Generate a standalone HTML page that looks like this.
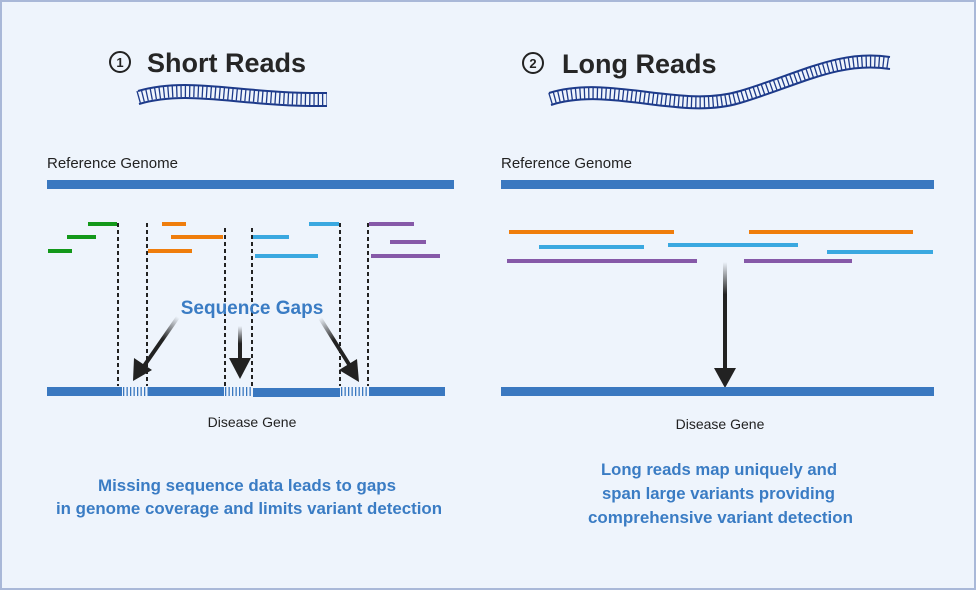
<!DOCTYPE html>
<html><head><meta charset="utf-8"><style>
html,body{margin:0;padding:0;background:#fff;}
svg{display:block;font-family:"Liberation Sans",sans-serif;}
</style></head><body>
<svg width="977" height="591" viewBox="0 0 977 591" xmlns="http://www.w3.org/2000/svg">
<defs>
<linearGradient id="ga" gradientUnits="userSpaceOnUse" x1="178" y1="317" x2="140" y2="372"><stop offset="0" stop-color="#222" stop-opacity="0"/><stop offset="0.4" stop-color="#222"/></linearGradient>
<linearGradient id="gb" gradientUnits="userSpaceOnUse" x1="240" y1="326" x2="240" y2="370"><stop offset="0" stop-color="#222" stop-opacity="0"/><stop offset="0.4" stop-color="#222"/></linearGradient>
<linearGradient id="gc" gradientUnits="userSpaceOnUse" x1="320" y1="318" x2="354" y2="374"><stop offset="0" stop-color="#222" stop-opacity="0"/><stop offset="0.4" stop-color="#222"/></linearGradient>
<linearGradient id="gd" gradientUnits="userSpaceOnUse" x1="725" y1="262" x2="725" y2="370"><stop offset="0" stop-color="#222" stop-opacity="0"/><stop offset="0.3" stop-color="#222"/></linearGradient>
</defs>
<rect x="1" y="1" width="974" height="588" fill="#eef4fc" stroke="#a9b8d8" stroke-width="2"/>

<!-- titles -->
<circle cx="120" cy="62" r="10" fill="none" stroke="#222" stroke-width="2"/>
<text x="120" y="67" font-size="13" font-weight="bold" text-anchor="middle" fill="#222">1</text>
<text x="147" y="72" font-size="27" font-weight="bold" fill="#262626">Short Reads</text>
<circle cx="533" cy="63" r="10" fill="none" stroke="#222" stroke-width="2"/>
<text x="533" y="68" font-size="13" font-weight="bold" text-anchor="middle" fill="#222">2</text>
<text x="562" y="73" font-size="27" font-weight="bold" fill="#262626">Long Reads</text>

<!-- DNA strands -->
<g fill="none" stroke="#1d3a8a">
<path d="M138 97 C190 82,240 100,327 99" stroke-width="12" stroke-dasharray="1.3 3"/>
<path d="M138 91 C190 76,240 94,327 93" stroke-width="2"/>
<path d="M139 104 C190 89,240 107,327 106" stroke-width="2"/>
<path d="M550 99 C610 80,680 115,740 97 S840 55,890 63" stroke-width="12" stroke-dasharray="1.3 3"/>
<path d="M549 93 C610 74,680 109,740 91 S840 49,890 57" stroke-width="2"/>
<path d="M551 105 C610 86,680 121,740 103 S840 61,890 69" stroke-width="2"/>
</g>

<!-- labels -->
<text x="47" y="168" font-size="15" fill="#222">Reference Genome</text>
<text x="501" y="168" font-size="15" fill="#222">Reference Genome</text>
<rect x="47" y="180" width="407" height="9" fill="#3a78c0"/>
<rect x="501" y="180" width="433" height="9" fill="#3a78c0"/>

<!-- short reads -->
<g stroke-width="4">
<line x1="48" y1="251" x2="72" y2="251" stroke="#13981a"/>
<line x1="67" y1="237" x2="96" y2="237" stroke="#13981a"/>
<line x1="88" y1="224" x2="117" y2="224" stroke="#13981a"/>
<line x1="162" y1="224" x2="186" y2="224" stroke="#ef7d0c"/>
<line x1="171" y1="237" x2="223" y2="237" stroke="#ef7d0c"/>
<line x1="148" y1="251" x2="192" y2="251" stroke="#ef7d0c"/>
<line x1="253" y1="237" x2="289" y2="237" stroke="#3aa8e0"/>
<line x1="309" y1="224" x2="339" y2="224" stroke="#3aa8e0"/>
<line x1="255" y1="256" x2="318" y2="256" stroke="#3aa8e0"/>
<line x1="369" y1="224" x2="414" y2="224" stroke="#8659a8"/>
<line x1="390" y1="242" x2="426" y2="242" stroke="#8659a8"/>
<line x1="371" y1="256" x2="440" y2="256" stroke="#8659a8"/>
</g>
<g stroke="#222" stroke-width="2" stroke-dasharray="4 3">
<line x1="118" y1="223" x2="118" y2="386"/>
<line x1="147" y1="223" x2="147" y2="386"/>
<line x1="225" y1="228" x2="225" y2="386"/>
<line x1="252" y1="228" x2="252" y2="386"/>
<line x1="340" y1="223" x2="340" y2="386"/>
<line x1="368" y1="223" x2="368" y2="386"/>
</g>

<text x="252" y="314" font-size="19" font-weight="bold" text-anchor="middle" fill="#3a7cc4">Sequence Gaps</text>

<!-- arrows short -->
<line x1="178" y1="317" x2="144" y2="366" stroke="url(#ga)" stroke-width="4"/>
<polygon points="133,381 134,358 152,370" fill="#222"/>
<line x1="240" y1="326" x2="240" y2="362" stroke="url(#gb)" stroke-width="4"/>
<polygon points="240,379 229,358 251,358" fill="#222"/>
<line x1="320" y1="318" x2="350" y2="366" stroke="url(#gc)" stroke-width="4"/>
<polygon points="359,382 339,370 357,359" fill="#222"/>

<!-- disease gene bar short -->
<rect x="47" y="387" width="75" height="9" fill="#3a78c0"/>
<rect x="148" y="387" width="76" height="9" fill="#3a78c0"/>
<rect x="253" y="388" width="87" height="9" fill="#3a78c0"/>
<rect x="370" y="387" width="75" height="9" fill="#3a78c0"/>
<g stroke="#3a78c0" stroke-width="9" stroke-dasharray="1.3 2.2">
<line x1="123" y1="391.5" x2="148" y2="391.5"/>
<line x1="225" y1="391.5" x2="253" y2="391.5"/>
<line x1="341" y1="391.5" x2="370" y2="391.5"/>
</g>
<text x="252" y="427" font-size="14" text-anchor="middle" fill="#222">Disease Gene</text>

<!-- long reads -->
<g stroke-width="4">
<line x1="509" y1="232" x2="674" y2="232" stroke="#ef7d0c"/>
<line x1="749" y1="232" x2="913" y2="232" stroke="#ef7d0c"/>
<line x1="539" y1="247" x2="644" y2="247" stroke="#3aa8e0"/>
<line x1="668" y1="245" x2="798" y2="245" stroke="#3aa8e0"/>
<line x1="827" y1="252" x2="933" y2="252" stroke="#3aa8e0"/>
<line x1="507" y1="261" x2="697" y2="261" stroke="#8659a8"/>
<line x1="744" y1="261" x2="852" y2="261" stroke="#8659a8"/>
</g>
<line x1="725" y1="262" x2="725" y2="372" stroke="url(#gd)" stroke-width="4"/>
<polygon points="725,388 714,368 736,368" fill="#222"/>
<rect x="501" y="387" width="433" height="9" fill="#3a78c0"/>
<text x="720" y="429" font-size="14" text-anchor="middle" fill="#222">Disease Gene</text>

<!-- captions -->
<g font-size="17" font-weight="bold" fill="#3a7cc4" lengthAdjust="spacingAndGlyphs">
<text x="98" y="491" textLength="298" lengthAdjust="spacingAndGlyphs">Missing sequence data leads to gaps</text>
<text x="56" y="514" textLength="386" lengthAdjust="spacingAndGlyphs">in genome coverage and limits variant detection</text>
<text x="601" y="475" textLength="236" lengthAdjust="spacingAndGlyphs">Long reads map uniquely and</text>
<text x="602" y="499" textLength="233" lengthAdjust="spacingAndGlyphs">span large variants providing</text>
<text x="588" y="523" textLength="265" lengthAdjust="spacingAndGlyphs">comprehensive variant detection</text>
</g>
</svg>
</body></html>
